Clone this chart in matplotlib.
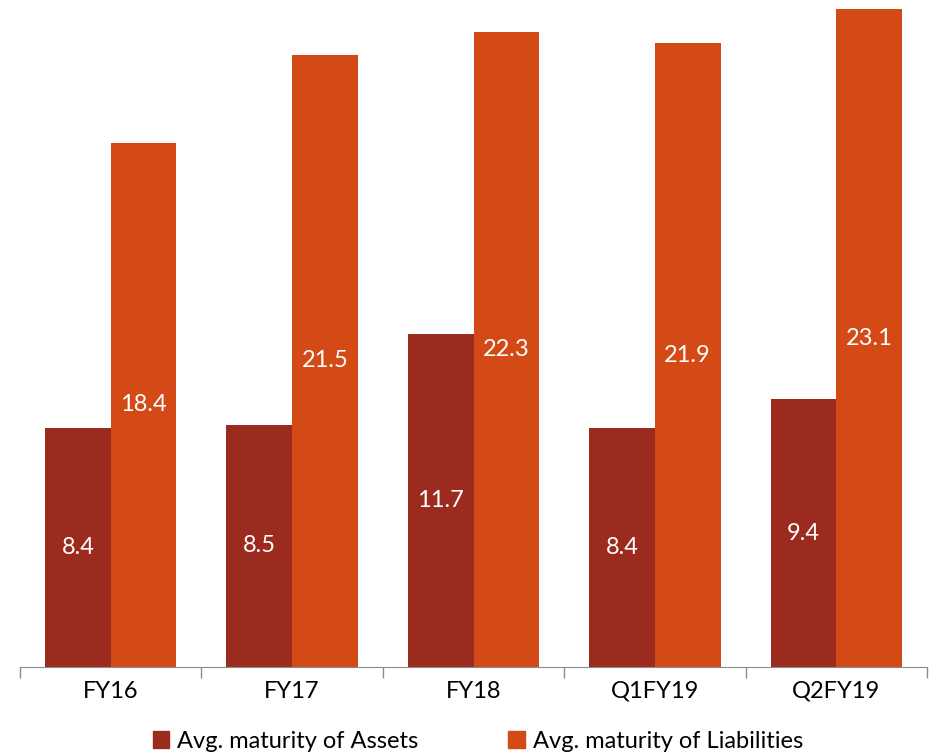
import numpy as np
import matplotlib.pyplot as plt
from matplotlib.patches import Patch

plt.rcParams['font.family'] = ['Lato', 'DejaVu Sans']

periods = ["FY16", "FY17", "FY18", "Q1FY19", "Q2FY19"]
assets = [8.4, 8.5, 11.7, 8.4, 9.4]
liabilities = [18.4, 21.5, 22.3, 21.9, 23.1]

c_assets = "#9B2B1F"
c_liab = "#D34A17"

fig = plt.figure(figsize=(9.36, 7.56), dpi=100)
ax = fig.add_axes([20 / 936, 89 / 756, 907 / 936, 667 / 756])

x = np.arange(len(periods))
width = 0.362
b1 = ax.bar(x - width / 2, assets, width, color=c_assets)
b2 = ax.bar(x + width / 2, liabilities, width, color=c_liab)

for bars in (b1, b2):
    ax.bar_label(bars, labels=[f"{v:.1f}" for v in bars.datavalues],
                 label_type='center', color='white', fontsize=17)

ax.set_xlim(-0.5, len(periods) - 0.5)
ax.set_ylim(0, 23.42)

# ticks at category boundaries, labels at the centres
ax.set_xticks(np.arange(-0.5, len(periods)), labels=[])
ax.set_xticks(x, labels=periods, minor=True)
ax.tick_params(axis='x', which='major', length=8, color='#8c8c8c', width=1)
ax.tick_params(axis='x', which='minor', length=0, pad=10, labelsize=17)
ax.set_yticks([])

for s in ['top', 'right', 'left']:
    ax.spines[s].set_visible(False)
ax.spines['bottom'].set_color('#8c8c8c')

handles = [Patch(color=c_assets, label="Avg. maturity of Assets"),
           Patch(color=c_liab, label="Avg. maturity of Liabilities")]
fig.legend(handles=handles, loc='center', bbox_to_anchor=(478 / 936, 1 - 741 / 756),
           ncol=2, frameon=False, fontsize=17, handlelength=0.7, handleheight=0.7,
           handletextpad=0.35, columnspacing=3.8)

fig.savefig("out.png", dpi=100)
